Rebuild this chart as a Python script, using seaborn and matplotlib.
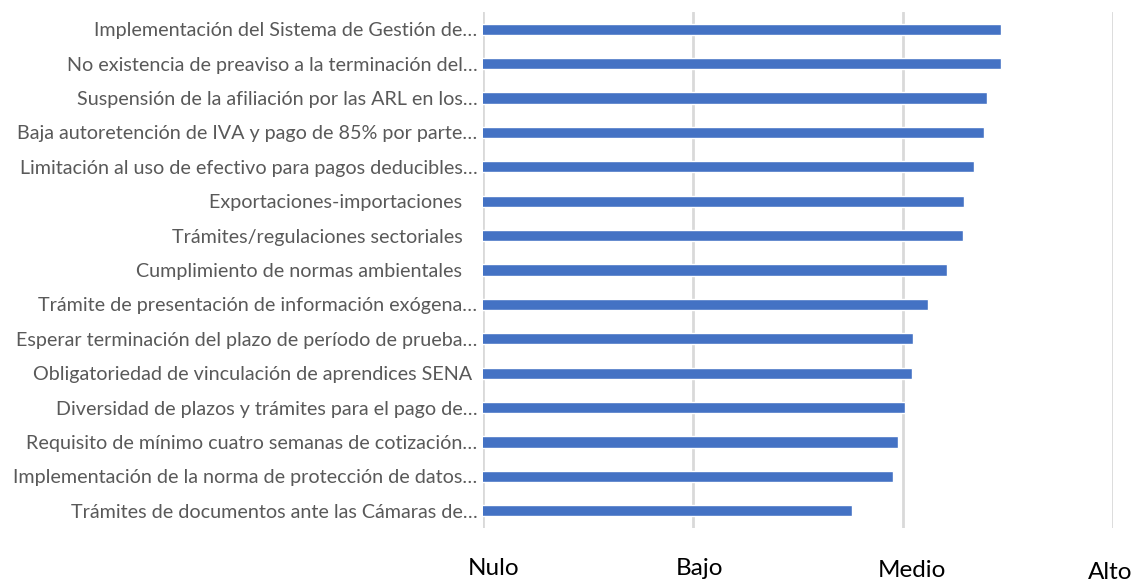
import matplotlib
matplotlib.use("Agg")
import matplotlib.pyplot as plt
import matplotlib.transforms as mtransforms
import pandas as pd
import seaborn as sns

# categorías (de arriba hacia abajo) y puntaje promedio (1=Nulo ... 4=Alto)
categorias = [
    "Implementación del Sistema de Gestión de…",
    "No existencia de preaviso a la terminación del…",
    "Suspensión de la afiliación por las ARL en los…",
    "Baja autoretención de IVA y pago de 85% por parte…",
    "Limitación al uso de efectivo para pagos deducibles…",
    "Exportaciones-importaciones   ",
    "Trámites/regulaciones sectoriales   ",
    "Cumplimiento de normas ambientales   ",
    "Trámite de presentación de información exógena…",
    "Esperar terminación del plazo de período de prueba…",
    "Obligatoriedad de vinculación de aprendices SENA ",
    "Diversidad de plazos y trámites para el pago de…",
    "Requisito de mínimo cuatro semanas de cotización…",
    "Implementación de la norma de protección de datos…",
    "Trámites de documentos ante las Cámaras de…",
]
puntajes = [3.465, 3.465, 3.402, 3.386, 3.340, 3.290, 3.284, 3.211,
            3.118, 3.049, 3.041, 3.008, 2.976, 2.954, 2.758]

niveles = ["Nulo", "Bajo", "Medio", "Alto"]
valores_niveles = [1, 2, 3, 4]

df = pd.DataFrame({"categoria": categorias, "puntaje": puntajes})

sns.set_style("white")
plt.rcParams["font.family"] = ["Lato", "DejaVu Sans"]

fig = plt.figure(figsize=(11.33, 5.81), dpi=100)
ax = fig.add_axes([483 / 1133, 1 - 528 / 581, 630 / 1133, 516 / 581])

sns.barplot(data=df, x="puntaje", y="categoria", orient="h",
            color="#4472C4", width=0.33, saturation=1, ax=ax, zorder=3)

ax.set_xlim(1, 4)
ax.set_ylim(len(categorias) - 0.5, -0.5)
for v in valores_niveles:
    ax.axvline(v, color="#d9d9d9", lw=2, zorder=1)

for s in ax.spines.values():
    s.set_visible(False)

ax.set_xlabel("")
ax.set_ylabel("")
ax.set_xticks([])
ax.tick_params(axis="y", length=0, pad=4, labelsize=14.2, labelcolor="#595959")

# etiquetas de nivel, escalonadas como en el original (desplazamiento en px)
desplaz = [(11, -47), (7, -47), (9, -49), (-3, -51)]
trans = mtransforms.blended_transform_factory(ax.transData, ax.transAxes)
for v, nom, (dx, dy) in zip(valores_niveles, niveles, desplaz):
    off = mtransforms.offset_copy(trans, fig=fig, x=dx, y=dy, units="dots")
    ax.text(v, 0, nom, transform=off, ha="center", va="baseline",
            fontsize=17.5, color="black", clip_on=False)

plt.savefig("out.png", dpi=100)
